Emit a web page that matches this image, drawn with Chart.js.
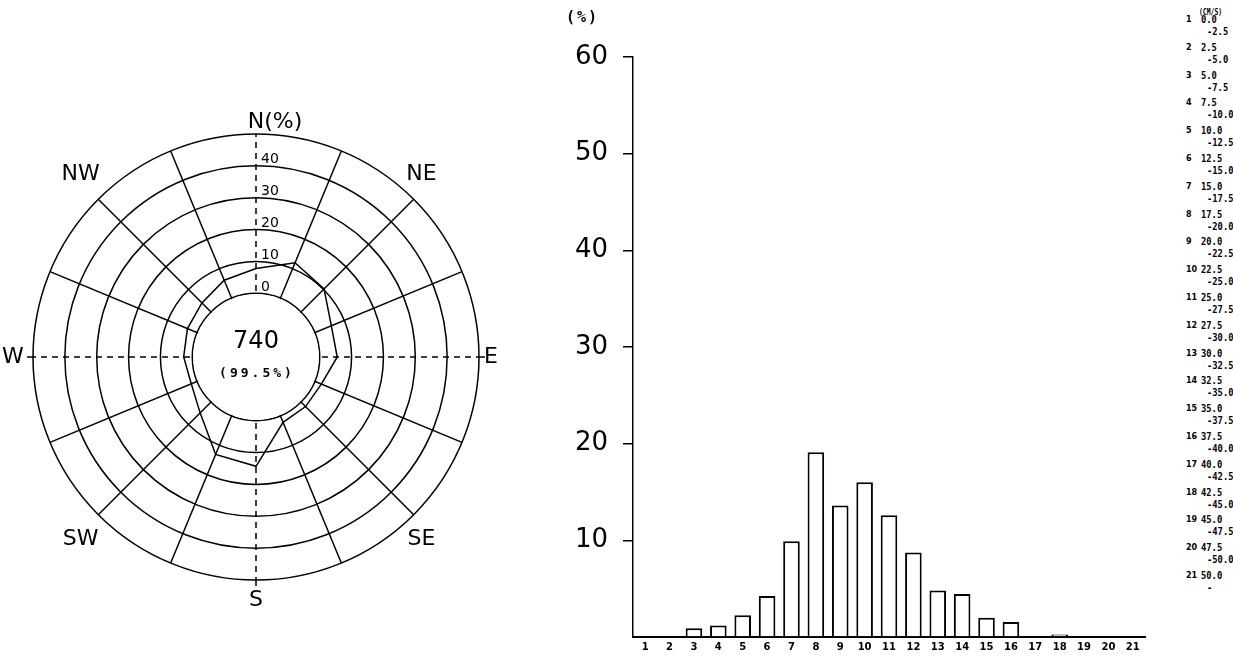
<!DOCTYPE html>
<html lang="en">
<head>
<meta charset="UTF-8">
<title>Wind rose and speed frequency</title>
<script src="https://cdn.jsdelivr.net/npm/chart.js"></script>
<style>
  html, body { margin: 0; padding: 0; background: #fff; }
  body { width: 1233px; height: 657px; position: relative; overflow: hidden; color: #000; font-family: 'DejaVu Sans', sans-serif; }
  #rose { position: absolute; left: 0; top: 0; }
  #bars { position: absolute; left: 520px; top: 0; }
  #pctUnit { position: absolute; left: 566px; top: 8px; font: bold 15px 'DejaVu Sans Mono', monospace; letter-spacing: 2px; }
  .unit { position: absolute; left: 1199px; top: 8px; font: bold 8px 'DejaVu Sans Mono', monospace; transform: scaleX(0.8); transform-origin: left top; }
  .cls { position: absolute; left: 1186px; font: bold 8px 'DejaVu Sans', sans-serif; }
  .lo, .hi { position: absolute; font: bold 11px 'DejaVu Sans Mono', monospace; line-height: 12px; transform: scaleX(0.8); transform-origin: left top; }
  .lo { left: 1201px; }
  .hi { left: 1207px; }
</style>
</head>
<body>
  <canvas id="rose" width="512" height="657"></canvas>
  <canvas id="bars" width="650" height="657"></canvas>
  <div id="pctUnit">(%)</div>
  <div id="legend"></div>

<script>
// wind direction frequency (%), 16 points starting at N, clockwise
const directions = ['N', 'NNE', 'NE', 'ENE', 'E', 'ESE', 'SE', 'SSE', 'S', 'SSW', 'SW', 'WSW', 'W', 'WNW', 'NW', 'NNW'];
const directionNames = ['N(%)', '', 'NE', '', 'E', '', 'SE', '', 'S', '', 'SW', '', 'W', '', 'NW', ''];
const roseValues = [7.8, 12.0, 10.2, 5.6, 5.5, 2.2, 2.0, 2.2, 14.3, 13.1, 4.8, 2.0, 2.7, 3.3, 4.0, 6.1];
const ringLabels = [0, 10, 20, 30, 40];
const totalCount = '740';
const totalShare = '(99.5%)';

// speed class frequency (%)
const speedClasses = ['1', '2', '3', '4', '5', '6', '7', '8', '9', '10', '11', '12', '13', '14', '15', '16', '17', '18', '19', '20', '21'];
const classFrequency = [0, 0, 0.9, 1.2, 2.25, 4.25, 9.9, 19.1, 13.6, 16.0, 12.6, 8.75, 4.8, 4.45, 2.0, 1.55, 0.1, 0.25, 0, 0, 0];
const speedLower = ['0.0', '2.5', '5.0', '7.5', '10.0', '12.5', '15.0', '17.5', '20.0', '22.5', '25.0', '27.5', '30.0', '32.5', '35.0', '37.5', '40.0', '42.5', '45.0', '47.5', '50.0'];
const speedUpper = ['-2.5', '-5.0', '-7.5', '-10.0', '-12.5', '-15.0', '-17.5', '-20.0', '-22.5', '-25.0', '-27.5', '-30.0', '-32.5', '-35.0', '-37.5', '-40.0', '-42.5', '-45.0', '-47.5', '-50.0', '-'];

// legend of speed classes on the right
const legend = document.getElementById('legend');
let html = '<div class="unit">(CM/S)</div>';
speedClasses.forEach((c, i) => {
  const y = 20 + i * 27.8;
  html += `<div class="cls" style="top:${y - 5}px">${c}</div>`;
  html += `<div class="lo" style="top:${y - 6}px">${speedLower[i]}</div>`;
  html += `<div class="hi" style="top:${y + 6}px">${speedUpper[i]}</div>`;
});
legend.innerHTML = html;

// extra distance of each compass name beyond the outer ring
const nameGap = { 0: 14, 4: 12, 8: 20, 12: 20 };

// draws the centre, ring labels and compass names on top of the radar scale
const roseDecor = {
  id: 'roseDecor',
  beforeDatasetsDraw(chart) {
    const s = chart.scales.r;
    const ctx = chart.ctx;
    const cx = s.xCenter, cy = s.yCenter;
    const r0 = s.getDistanceFromCenterForValue(0);
    const R = s.getDistanceFromCenterForValue(50);
    ctx.save();
    // blank the inner circle
    ctx.fillStyle = '#fff';
    ctx.beginPath();
    ctx.arc(cx, cy, r0 - 1, 0, Math.PI * 2);
    ctx.fill();

    // dashed cardinal lines run a little past the outer ring
    ctx.strokeStyle = '#000';
    ctx.lineWidth = 1.5;
    ctx.setLineDash([6, 5]);
    [4, 8, 12].forEach(i => {
      const a = s.getPointPosition(i, R);
      const b = s.getPointPosition(i, R + 11);
      ctx.beginPath();
      ctx.moveTo(a.x, a.y);
      ctx.lineTo(b.x, b.y);
      ctx.stroke();
    });
    ctx.setLineDash([]);

    ctx.fillStyle = '#000';
    ctx.textAlign = 'center';
    ctx.textBaseline = 'middle';
    ctx.font = '24px "DejaVu Sans"';
    ctx.fillText(totalCount, cx, cy - 15);
    ctx.font = 'bold 13px "DejaVu Sans Mono"';
    ctx.letterSpacing = '3px';
    ctx.fillText(totalShare, cx + 1, cy + 17);
    ctx.letterSpacing = '0px';

    // ring values along the north axis
    ctx.font = '14px "DejaVu Sans"';
    ctx.textAlign = 'left';
    ctx.textBaseline = 'bottom';
    ringLabels.forEach(v => {
      ctx.fillText(String(v), cx + 5, cy - s.getDistanceFromCenterForValue(v) + 1);
    });

    // compass names
    ctx.font = '22px "DejaVu Sans"';
    ctx.textBaseline = 'middle';
    directionNames.forEach((name, i) => {
      if (!name) return;
      if (i % 4 !== 0) {
        const p = s.getPointPosition(i, R + 18);
        ctx.textAlign = 'center';
        ctx.fillText(name, p.x - 5, p.y + (p.y < cy ? -12 : 12));
        return;
      }
      const p = s.getPointPosition(i, R + nameGap[i]);
      if (i === 0) {
        const w = ctx.measureText('N').width;
        ctx.textAlign = 'left';
        ctx.fillText(name, p.x - w / 2, p.y + 2);
      } else {
        ctx.textAlign = 'center';
        ctx.fillText(name, p.x, p.y);
      }
    });
    ctx.restore();
  }
};

new Chart(document.getElementById('rose'), {
  type: 'radar',
  data: {
    labels: directions,
    datasets: [{
      data: roseValues,
      borderColor: '#000',
      borderWidth: 1.5,
      fill: false,
      pointRadius: 0,
      tension: 0
    }]
  },
  options: {
    responsive: false,
    animation: false,
    layout: { padding: { left: 33, right: 33, top: 134, bottom: 77 } },
    plugins: { legend: { display: false }, tooltip: { enabled: false } },
    scales: {
      r: {
        min: -20,
        max: 50,
        ticks: { display: false, stepSize: 10 },
        pointLabels: { display: false },
        grid: {
          circular: true,
          lineWidth: 1.5,
          color: ctx => (ctx.tick && ctx.tick.value < 0) ? 'rgba(0,0,0,0)' : '#000'
        },
        angleLines: {
          color: '#000',
          lineWidth: 1.5,
          borderDash: ctx => ctx.index % 4 === 0 ? [6, 5] : []
        }
      }
    }
  },
  plugins: [roseDecor]
});

new Chart(document.getElementById('bars'), {
  type: 'bar',
  data: {
    labels: speedClasses,
    datasets: [{
      data: classFrequency,
      backgroundColor: '#fff',
      borderColor: '#000',
      borderWidth: 2,
      barPercentage: 0.68,
      categoryPercentage: 1
    }]
  },
  options: {
    responsive: false,
    animation: false,
    layout: { padding: { left: 20, right: 25, top: 57, bottom: 0 } },
    plugins: { legend: { display: false }, tooltip: { enabled: false } },
    scales: {
      x: {
        grid: { display: false, drawTicks: false },
        border: { display: true, color: '#000', width: 2 },
        ticks: {
          color: '#000',
          padding: 4,
          maxRotation: 0,
          autoSkip: false,
          font: { family: 'DejaVu Sans', size: 10, weight: 'bold' }
        },
        afterFit: s => { s.height = 20; }
      },
      y: {
        min: 0,
        max: 60,
        ticks: {
          stepSize: 10,
          color: '#000',
          padding: 15,
          font: { family: 'DejaVu Sans', size: 26 },
          callback: v => v === 0 ? '' : v
        },
        grid: {
          drawOnChartArea: false,
          tickLength: 10,
          lineWidth: 1.5,
          color: ctx => (ctx.tick && ctx.tick.value === 0) ? 'rgba(0,0,0,0)' : '#000'
        },
        border: { display: true, color: '#000', width: 1.5 },
        afterFit: s => { s.width = 93; s.paddingBottom = 0; }
      }
    }
  }
});
</script>
</body>
</html>
